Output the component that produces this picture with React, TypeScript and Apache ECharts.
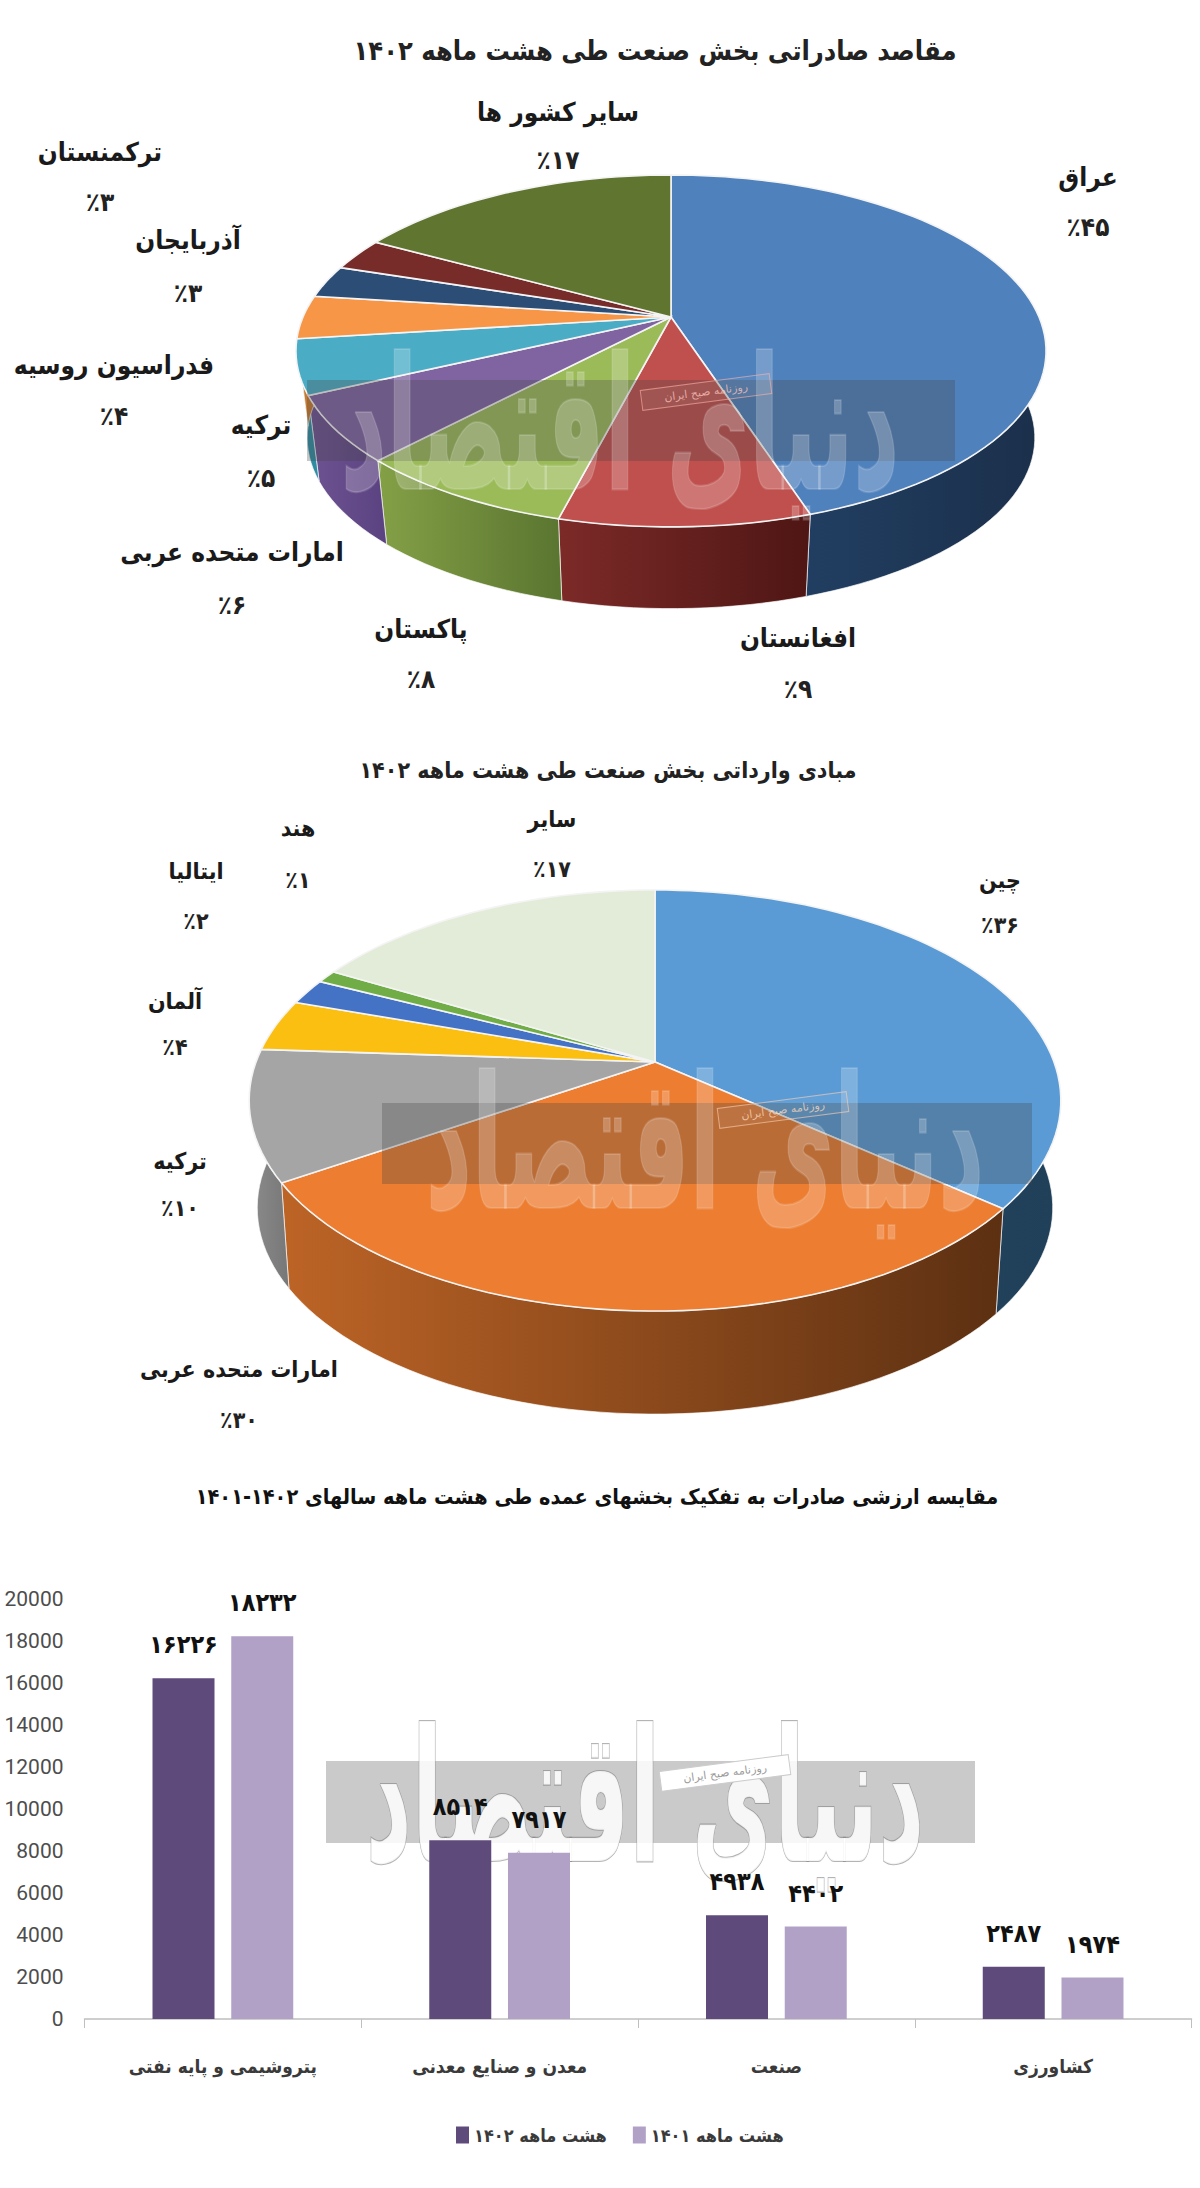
import React, { useEffect, useRef } from "react";
import * as echarts from "echarts";

// ---------- data ----------
const exportNames = ["عراق", "افغانستان", "پاکستان", "امارات متحده عربی", "ترکیه", "فدراسیون روسیه", "آذربایجان", "ترکمنستان", "سایر کشور ها"];
const exportValues = [45, 9, 8, 6, 5, 4, 3, 3, 17];
const importNames = ["چین", "امارات متحده عربی", "ترکیه", "آلمان", "ایتالیا", "هند", "سایر"];
const importValues = [36, 30, 10, 4, 2, 1, 17];
const sectorNames = ["پتروشیمی و پایه نفتی", "معدن و صنایع معدنی", "صنعت", "کشاورزی"];
const values1402 = [16226, 8514, 4938, 2487];
const values1401 = [18232, 7917, 4402, 1974];
const yTicks = { min: 0, max: 20000, interval: 2000 };
const title1 = "مقاصد صادراتی بخش صنعت طی هشت ماهه ۱۴۰۲";
const title2 = "مبادی وارداتی بخش صنعت طی هشت ماهه ۱۴۰۲";
const title3 = "مقایسه ارزشی صادرات به تفکیک بخشهای عمده طی هشت ماهه سالهای ۱۴۰۲-۱۴۰۱";
const legend1402 = "هشت ماهه ۱۴۰۲";
const legend1401 = "هشت ماهه ۱۴۰۱";
const watermark = "دنیای اقتصاد";
const watermarkSmall = "روزنامه صبح ایران";

// ---------- styles and layout ----------
const FA = '"DejaVu Sans"';
const FAC = '"DejaVu Sans Condensed", "DejaVu Sans"';
const exportTop = ["#4f81bd", "#c0504d", "#9bbb59", "#8064a2", "#4bacc6", "#f79646", "#2c4d75", "#772c2a", "#5f7530"];
const exportWall = [["#24476f", "#1b2f4a"], ["#7c2a28", "#4e1614"], ["#84a046", "#5a7530"], ["#6f5392", "#5a4280"], ["#2f8da3", "#2f8da3"], ["#c67a30", "#c67a30"], ["#1f3a5c", "#1f3a5c"], ["#5a1e1c", "#5a1e1c"], ["#4a5c24", "#4a5c24"]];
const importTop = ["#5b9bd5", "#ed7d31", "#a5a5a5", "#fbbf12", "#4472c4", "#70ad47", "#e3ecd8"];
const importWall = [["#28506e", "#203f58"], ["#bd6426", "#5c3012"], ["#8c8c8c", "#777777"], ["#b8890c", "#b8890c"], ["#2f5597", "#2f5597"], ["#4f7a32", "#4f7a32"], ["#b0b8a8", "#b0b8a8"]];
const pie1 = { cx: 671, cy: 317, s: 368, q: 169.4, k: 0.193, f: 0.97, d: 88 };
const pie2 = { cx: 655, cy: 1062, s: 399, q: 203.5, k: 0.183, f: 0.98, d: 108 };
const exportLabelPos = [[1088, 177, 227], [798, 638, 689], [421, 629, 679], [232, 552, 605], [261, 425, 478], [114, 365, 416], [188, 240, 293], [100, 152, 202], [558, 112, 160]];
const importLabelPos = [[1000, 880, 925], [239, 1369, 1420], [180, 1161, 1208], [175, 1001, 1047], [196, 871, 921], [298, 828, 880], [552, 819, 869]];

const toFa = (v: number) => String(v).replace(/[0-9]/g, (c) => "۰۱۲۳۴۵۶۷۸۹"[+c]);

type Pie = typeof pie1;
function pt(p: Pie, deg: number, base: boolean): number[] {
  const a = (deg * Math.PI) / 180;
  const X = Math.sin(a);
  const Y = -Math.cos(a);
  const w = 1 - p.k * Y;
  const f = base ? p.f : 1;
  return [p.cx + (f * p.s * X) / w, p.cy + (base ? p.d : 0) + (f * p.q * Y) / w];
}
function arc(p: Pie, a0: number, a1: number, base: boolean): number[][] {
  const n = Math.max(2, Math.ceil((a1 - a0) / 2));
  const out: number[][] = [];
  for (let i = 0; i <= n; i++) out.push(pt(p, a0 + ((a1 - a0) * i) / n, base));
  return out;
}
const grad = (c: string[]) => ({ type: "linear", x: 0, y: 0, x2: 1, y2: 0, colorStops: [{ offset: 0, color: c[0] }, { offset: 1, color: c[1] }] });

function pieSeries(p: Pie, vals: number[], tops: string[], walls: string[][]) {
  const total = vals.reduce((a, b) => a + b, 0);
  const span = (i: number) => {
    const before = vals.slice(0, i).reduce((a, b) => a + b, 0);
    return [(before / total) * 360, ((before + vals[i]) / total) * 360];
  };
  const wall = {
    type: "custom", coordinateSystem: "none", silent: true, z: 3, data: vals,
    renderItem: (params: any) => {
      const [a0, a1] = span(params.dataIndex);
      const pts = [...arc(p, a0, a1, false), ...arc(p, a0, a1, true).reverse()];
      return { type: "polygon", shape: { points: pts }, style: { fill: grad(walls[params.dataIndex]), stroke: "rgba(255,255,255,0.65)", lineWidth: 1 } };
    },
  };
  const top = {
    type: "custom", coordinateSystem: "none", silent: true, z: 4, data: vals,
    renderItem: (params: any) => {
      const [a0, a1] = span(params.dataIndex);
      const pts = [[p.cx, p.cy], ...arc(p, a0, a1, false)];
      return { type: "polygon", shape: { points: pts }, style: { fill: tops[params.dataIndex], stroke: "#f4f4f4", lineWidth: 1.6 } };
    },
  };
  return [wall, top];
}

const txt = (text: string, x: number, y: number, font: string, fill = "#1a1a1a") => ({
  type: "text", z: 20, style: { text, x, y, font, fill, align: "center", verticalAlign: "middle", textAlign: "center", textVerticalAlign: "middle" },
});

function labels(names: string[], vals: number[], pos: number[][], size: number) {
  const out: any[] = [];
  names.forEach((n, i) => {
    out.push(txt(n, pos[i][0], pos[i][1], `bold ${size}px ${FAC}`));
    out.push(txt(`٪${toFa(vals[i])}`, pos[i][0], pos[i][2], `bold ${size}px ${FAC}`, "#222"));
  });
  return out;
}

function mark(band: number[], cx: number, cy: number, box: number[], bandFill: string, textFill: string, stroke: string, boxFill: string, boxStroke: string, smallFill: string) {
  return [
    { type: "rect", z: 10, shape: { x: band[0], y: band[1], width: band[2], height: band[3] }, style: { fill: bandFill } },
    { type: "text", z: 11, x: cx, y: cy, scaleX: 1.07, scaleY: 2.2, style: { text: watermark, x: 0, y: 0, font: `bold 84px ${FA}`, fill: textFill, stroke, lineWidth: 1, align: "center", verticalAlign: "middle", textAlign: "center", textVerticalAlign: "middle" } },
    {
      type: "group", x: box[0], y: box[1], rotation: 0.13, z: 12,
      children: [
        { type: "rect", z: 12, shape: { x: -65, y: -10, width: 130, height: 20 }, style: { fill: boxFill, stroke: boxStroke, lineWidth: 1 } },
        { type: "text", z: 13, style: { text: watermarkSmall, x: 0, y: 0, font: `11px ${FA}`, fill: smallFill, align: "center", verticalAlign: "middle", textAlign: "center", textVerticalAlign: "middle" } },
      ],
    },
  ];
}

export default function App() {
  const ref = useRef<HTMLDivElement>(null);
  useEffect(() => {
    document.body.style.margin = "0";
    const chart = echarts.init(ref.current!, undefined, { renderer: "svg" });
    const barLabel = {
      show: true, position: "top", distance: 21, color: "#111",
      fontFamily: FAC, fontWeight: "bold", fontSize: 25,
      formatter: (p: any) => toFa(p.value),
    };
    chart.setOption({
      animation: false,
      backgroundColor: "#ffffff",
      grid: { left: 84.5, top: 1599, width: 1107, height: 420, containLabel: false },
      xAxis: {
        type: "category", data: sectorNames,
        axisLine: { lineStyle: { color: "#bfbfbf", width: 1.5 } },
        axisTick: { show: true, length: 9, lineStyle: { color: "#bfbfbf" } },
        axisLabel: { margin: 37, color: "#3a3a3a", fontFamily: FAC, fontWeight: "bold", fontSize: 19 },
      },
      yAxis: {
        type: "value", min: yTicks.min, max: yTicks.max, interval: yTicks.interval,
        axisLine: { show: false }, axisTick: { show: false }, splitLine: { show: false },
        axisLabel: { margin: 21, color: "#4d4d4d", fontFamily: "Roboto", fontSize: 21, formatter: (v: number) => String(v) },
      },
      legend: {
        left: 451, top: 2121, itemWidth: 13, itemHeight: 17, itemGap: 26,
        icon: "rect", data: [legend1402, legend1401],
        textStyle: { color: "#3a3a3a", fontFamily: FAC, fontWeight: "bold", fontSize: 18 },
      },
      series: [
        ...pieSeries(pie1, exportValues, exportTop, exportWall),
        ...pieSeries(pie2, importValues, importTop, importWall),
        { type: "bar", z: 15, name: legend1402, data: values1402, barWidth: 62, barGap: "27%", itemStyle: { color: "#5f4a7c" }, label: barLabel },
        { type: "bar", z: 15, name: legend1401, data: values1401, barWidth: 62, itemStyle: { color: "#b2a1c7" }, label: barLabel },
      ],
      graphic: {
        z: 10,
        elements: [
          txt(title1, 655, 50, `bold 27px ${FAC}`, "#222"),
          txt(title2, 608, 770, `bold 23px ${FAC}`, "#222"),
          txt(title3, 597, 1496, `bold 21.5px ${FAC}`, "#111"),
          ...labels(exportNames, exportValues, exportLabelPos, 26),
          ...labels(importNames, importValues, importLabelPos, 23),
          ...mark([307, 380, 648, 81], 620, 425, [706, 392], "rgba(70,70,70,0.3)", "rgba(255,255,255,0.22)", "rgba(255,255,255,0.15)", "rgba(255,255,255,0.05)", "rgba(255,180,170,0.6)", "rgba(255,200,190,0.75)"),
          ...mark([382, 1103, 650, 81], 705, 1144, [783, 1110], "rgba(70,70,70,0.3)", "rgba(255,255,255,0.22)", "rgba(255,255,255,0.15)", "rgba(255,255,255,0.05)", "rgba(255,210,180,0.6)", "rgba(255,220,190,0.75)"),
          ...mark([326, 1761, 649, 82], 645, 1797, [725, 1773], "rgba(150,150,150,0.5)", "rgba(255,255,255,0.85)", "rgba(130,130,130,0.6)", "#ffffff", "#cccccc", "#9a9a9a"),
        ],
      },
    });
    return () => chart.dispose();
  }, []);
  return <div ref={ref} style={{ position: "absolute", left: 0, top: 0, width: 1200, height: 2188 }} />;
}
